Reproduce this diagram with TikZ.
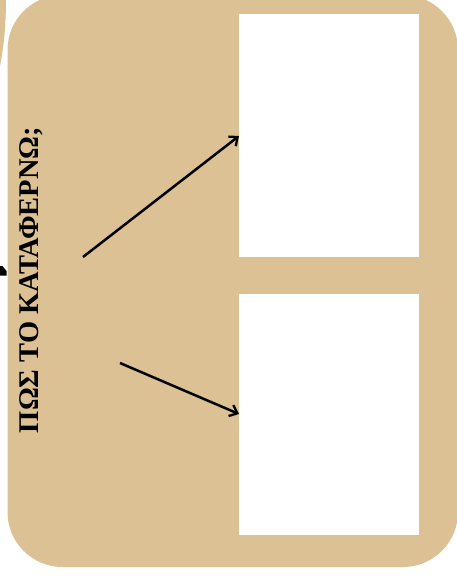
\documentclass[tikz,border=0pt]{standalone}
\usepackage{fontspec}
\setmainfont{Liberation Serif}
\usetikzlibrary{arrows.meta}
\definecolor{tan}{HTML}{DCC194}
\tikzset{
  panel/.style={fill=tan, rounded corners=55pt},
  whitebox/.style={fill=white, draw=none, inner sep=0pt, anchor=north west},
  link/.style={line width=2.5pt, -{Straight Barb[length=7pt,width=12pt,line width=2.3pt]}},
  title/.style={rotate=90, font=\bfseries\fontsize{28.5}{28.5}\selectfont, inner sep=0pt}
}
\begin{document}
\begin{tikzpicture}[x=1pt,y=-1pt]
\useasboundingbox (0,0) rectangle (456,576);
\fill[white] (0,0) rectangle (456,576);
% fragments of neighbouring shapes
\fill[tan] (-2,-2) -- (6,-2) .. controls (6,25) and (4,45) .. (0,66) -- (-2,66) -- cycle;
\fill (0,266) -- (2.5,266) -- (6.5,271) -- (6.5,275.5) -- (0,275.5) -- cycle;
% main panel
\fill[panel] (7.5,-5) rectangle (458,567);
\node[whitebox, minimum width=180pt, minimum height=243pt] (boxa) at (239,14) {};
\node[whitebox, minimum width=180pt, minimum height=241pt] (boxb) at (239,294) {};
\node[title] (q) at (31,280) {ΠΩΣ ΤΟ ΚΑΤΑΦΕΡΝΩ;};
\coordinate (sa) at (83,257);
\coordinate (sb) at (120,363);
\coordinate (ea) at (boxa.west |- 0,136);
\coordinate (eb) at (boxb.west |- 0,414);
\draw[link] (sa) -- (ea);
\draw[link] (sb) -- (eb);
\end{tikzpicture}
\end{document}
